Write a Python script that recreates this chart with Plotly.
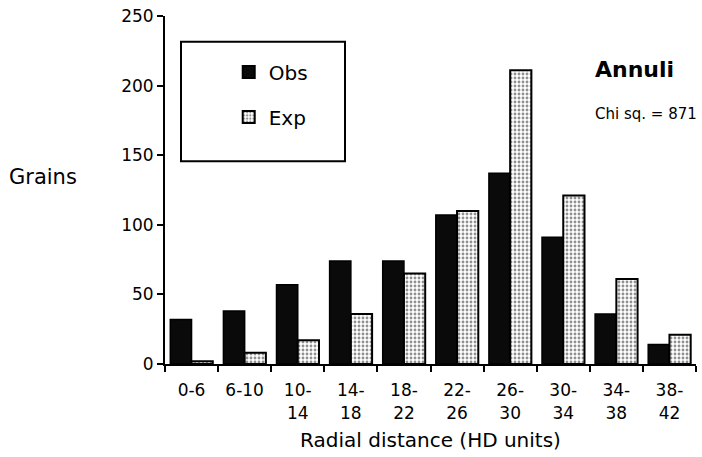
import plotly.graph_objects as go

categories = ["0-6", "6-10", "10-<br>14", "14-<br>18", "18-<br>22", "22-<br>26",
              "26-<br>30", "30-<br>34", "34-<br>38", "38-<br>42"]
obs = [32, 38, 57, 74, 74, 107, 137, 91, 36, 14]
exp = [2, 8, 17, 36, 65, 110, 211, 121, 61, 21]
y_ticks = [0, 50, 100, 150, 200, 250]

FONT = "DejaVu Sans"

fig = go.Figure()
fig.add_trace(go.Bar(
    x=categories, y=obs, name="Obs", legendgroup="a",
    marker=dict(color="#0a0a0a", line=dict(color="#000", width=1.5)),
))
fig.add_trace(go.Bar(
    x=categories, y=exp, name="Exp", legendgroup="b",
    marker=dict(color="white", line=dict(color="#000", width=2),
                pattern=dict(shape=".", fgcolor="#222", bgcolor="white",
                             size=4, solidity=0.4)),
))

fig.update_layout(
    width=702, height=457,
    margin=dict(l=165, r=6, t=14, b=93),
    paper_bgcolor="white", plot_bgcolor="white",
    barmode="group", bargap=0.2, bargroupgap=0,
    font=dict(family=FONT, color="#000", size=17),
    showlegend=True,
    legend=dict(x=0.12, y=0.895, xanchor="left", yanchor="top",
                bgcolor="rgba(0,0,0,0)", borderwidth=0,
                font=dict(size=20), traceorder="grouped",
                tracegroupgap=16, itemsizing="constant"),
    xaxis=dict(
        type="category", range=[-0.5, 9.5],
        showline=True, linecolor="#000", linewidth=2,
        ticks="outside", tickson="boundaries", ticklen=6, tickwidth=2,
        tickcolor="#000", showgrid=False, zeroline=False,
        tickfont=dict(size=17), ticklabelstandoff=10,
        title=dict(text="Radial distance (HD units)", font=dict(size=20), standoff=11),
    ),
    yaxis=dict(
        range=[0, 250], tickvals=y_ticks,
        showline=True, linecolor="#000", linewidth=2,
        ticks="outside", ticklen=6, tickwidth=2, tickcolor="#000",
        showgrid=False, zeroline=False, tickfont=dict(size=17),
    ),
    shapes=[dict(type="rect", xref="paper", yref="paper",
                 x0=(181 - 165) / 531, x1=(345 - 165) / 531,
                 y0=(364 - 160) / 350, y1=(364 - 40) / 350,
                 line=dict(color="#000", width=2))],
    annotations=[
        dict(text="Grains", xref="paper", yref="paper",
             x=(43 - 165) / 531, y=(364 - 176) / 350,
             showarrow=False, font=dict(size=21), xanchor="center", yanchor="middle"),
        dict(text="<b>Annuli</b>", xref="paper", yref="paper",
             x=(593 - 165) / 531, y=(364 - 68) / 350,
             showarrow=False, font=dict(size=22), xanchor="left", yanchor="middle"),
        dict(text="Chi sq. = 871", xref="paper", yref="paper",
             x=(593 - 165) / 531, y=(364 - 113) / 350,
             showarrow=False, font=dict(size=15), xanchor="left", yanchor="middle"),
    ],
)

fig.write_html("out.html", config={"displayModeBar": False},
               post_script="document.body.style.margin='0px';")
